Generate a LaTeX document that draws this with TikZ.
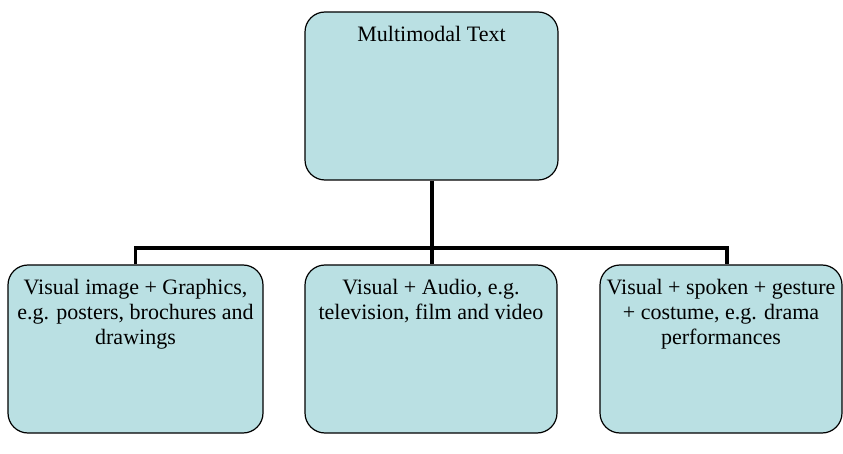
\documentclass[tikz,border=0pt]{standalone}
\usepackage{fontspec}
\setmainfont{Liberation Serif}
\usepackage{tikz}
\usetikzlibrary{positioning}
\definecolor{boxfill}{RGB}{186,224,227}
\tikzset{
    mmbox/.style={draw=black, line width=1.2pt, fill=boxfill, rounded corners=20pt, inner sep=0pt},
    mmlink/.style={draw=black, line width=3.8pt}
}
\newcommand{\boxtext}[2]{\parbox[t][168pt][t]{#1}{\centering\fontsize{22}{25}\selectfont\vspace*{14pt}#2\par}}

\begin{document}
\begin{tikzpicture}[x=1pt, y=-1pt]
                \useasboundingbox (0,0) rectangle (843,454);
                \node[mmbox] (multimodal) at (431.5,96) {\boxtext{253pt}{Multimodal Text}};
                \node[mmbox] (graphics) at (135.5,349) {\boxtext{255pt}{Visual image + Graphics,\\ e.g. posters, brochures and\\ drawings}};
                \node[mmbox] (audio) at (431,349) {\boxtext{252pt}{Visual + Audio, e.g.\\ television, film and video}};
                \node[mmbox] (drama) at (721,349) {\boxtext{242pt}{Visual + spoken + gesture\\ + costume, e.g. drama\\ performances}};
                \coordinate (bus) at (432,248);
                \coordinate (dramatop) at ([xshift=6pt]drama.north);
                \draw[mmlink] (multimodal.south -| bus) -- (bus);
                \draw[mmlink] (graphics.north) |- (bus) -| (dramatop);
                \draw[mmlink] (bus) -- (audio.north -| bus);
            \end{tikzpicture}
\end{document}
